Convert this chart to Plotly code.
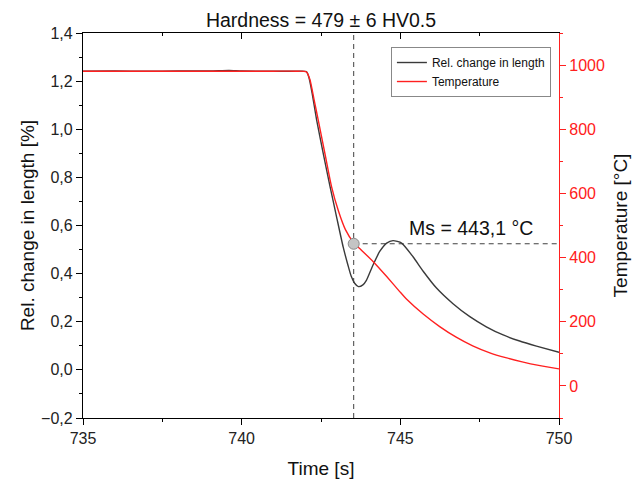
import plotly.graph_objects as go

# ---- data ----
time_len = [735.0, 736.0, 737.0, 738.0, 739.0, 739.6, 740.0, 741.0, 741.7, 742.04,
            742.12, 742.22, 742.36, 742.57, 742.78, 743.00, 743.20, 743.35, 743.45,
            743.56, 743.68, 743.82, 743.93, 744.14, 744.35, 744.57, 744.77, 745.04,
            745.40, 745.72, 746.14, 746.66, 747.19, 747.71, 748.24, 748.76, 749.29,
            750.0]
rel_len = [1.241, 1.242, 1.241, 1.242, 1.242, 1.244, 1.242, 1.241, 1.241, 1.240,
           1.215, 1.150, 1.040, 0.900, 0.765, 0.630, 0.510, 0.435, 0.390,
           0.360, 0.346, 0.353, 0.372, 0.436, 0.492, 0.527, 0.537, 0.527,
           0.470, 0.410, 0.340, 0.275, 0.221, 0.179, 0.145, 0.120, 0.099,
           0.073]

time_temp = [735.0, 738.0, 741.0, 741.7, 742.04, 742.15, 742.28, 742.41, 742.62,
             742.83, 743.05, 743.27, 743.53, 743.72, 744.14, 744.57, 744.98, 745.20,
             745.72, 746.24, 746.76, 747.28, 747.80, 748.32, 748.84, 749.36, 750.0]
temperature = [981, 981, 981, 981, 979, 955, 893, 830, 726,
               622, 545, 487, 446, 428, 388, 341, 294, 270,
               224, 185, 152, 125, 104, 88, 75, 64, 53]

ms_time = 743.53
ms_temp = 443.1

title_text = "Hardness = 479 ± 6 HV0.5"
ms_label = "Ms = 443,1 °C"
x_title = "Time [s]"
y_title = "Rel. change in length [%]"
y2_title = "Temperature [°C]"
series_names = ["Rel. change in length", "Temperature"]

FONT = "Liberation Sans, Arial, sans-serif"
RED = "#ff2020"
DARK = "#3a3a3a"

W, H = 634, 475  # page body adds an 8px offset; keeps the 642x483 view aligned

fig = go.Figure()
fig.add_trace(go.Scatter(x=time_len, y=rel_len, name=series_names[0], mode="lines",
                         line=dict(color=DARK, width=1.4, shape="spline", smoothing=0.6)))
fig.add_trace(go.Scatter(x=time_temp, y=temperature, name=series_names[1], mode="lines",
                         yaxis="y2",
                         line=dict(color=RED, width=1.4, shape="spline", smoothing=0.6)))
fig.add_trace(go.Scatter(x=[ms_time], y=[ms_temp], yaxis="y2", mode="markers",
                         marker=dict(size=11, color="#c4c4c4",
                                     line=dict(color="#8a8a8a", width=1)),
                         showlegend=False, hoverinfo="skip"))
# helper trace so the top (mirror) axis is drawn
fig.add_trace(go.Scatter(x=[735], y=[None], xaxis="x2", mode="lines",
                         showlegend=False, hoverinfo="skip"))

dash_line = dict(color="#404040", width=1, dash="5px,4px")
fig.add_shape(type="line", xref="x", yref="paper", x0=ms_time, x1=ms_time,
              y0=0, y1=1, line=dash_line, layer="below")
fig.add_shape(type="line", xref="x", yref="y2", x0=ms_time, x1=750,
              y0=ms_temp, y1=ms_temp, line=dash_line, layer="below")

fig.add_annotation(x=745.2, y=491, xref="x", yref="y2", text=ms_label,
                   showarrow=False, xanchor="left", yanchor="middle",
                   font=dict(size=19.5, color="#111111", family=FONT))

axis_common = dict(showgrid=False, zeroline=False, showline=True, linewidth=1.2,
                   automargin=False)

fig.update_layout(
    width=W, height=H,
    margin=dict(l=75, r=83, t=25, b=65),
    paper_bgcolor="white", plot_bgcolor="white",
    separators=",.",
    font=dict(family=FONT, color="#222222"),
    title=dict(text=title_text, x=0.5, xref="paper", xanchor="center",
               y=1 - 12 / H, yref="container", yanchor="middle",
               font=dict(size=19.5, color="#111111", family=FONT)),
    xaxis=dict(range=[735, 750], tick0=735, dtick=5, ticks="outside", ticklen=6,
               tickwidth=1, tickcolor="black", linecolor="black",
               tickfont=dict(size=16, color="#222222"),
               minor=dict(dtick=2.5, ticks="outside", ticklen=3, tickcolor="black"),
               title=dict(text=x_title, font=dict(size=19, color="#111111"), standoff=15),
               **axis_common),
    xaxis2=dict(range=[735, 750], overlaying="x", side="top", anchor="y",
                tick0=735, dtick=5, ticks="inside", ticklen=6, tickcolor="black",
                linecolor="black", showticklabels=False,
                minor=dict(dtick=2.5, ticks="inside", ticklen=3, tickcolor="black"),
                **axis_common),
    yaxis=dict(range=[-0.2, 1.4], tick0=0, dtick=0.2, tickformat=".1f",
               ticks="outside", ticklen=6, tickcolor="black", linecolor="black",
               tickfont=dict(size=16, color="#222222"),
               minor=dict(dtick=0.1, ticks="outside", ticklen=3, tickcolor="black"),
               title=dict(text=y_title, font=dict(size=19, color="#111111"), standoff=1),
               **axis_common),
    yaxis2=dict(range=[-100, 1100], overlaying="y", side="right", anchor="x",
                tick0=0, dtick=200, tickformat="d",
                ticks="outside", ticklen=6, tickcolor=RED, linecolor=RED,
                tickfont=dict(size=16, color=RED),
                minor=dict(dtick=100, ticks="outside", ticklen=3, tickcolor=RED),
                title=dict(text=y2_title, font=dict(size=19, color="#111111"), standoff=9),
                **axis_common),
    legend=dict(x=0.983, y=0.9636, xanchor="right", yanchor="top",
                bgcolor="white", bordercolor="#888888", borderwidth=1,
                font=dict(size=12, color="#111111", family=FONT),
                tracegroupgap=0),
    showlegend=True,
)

fig.write_html("out.html")
